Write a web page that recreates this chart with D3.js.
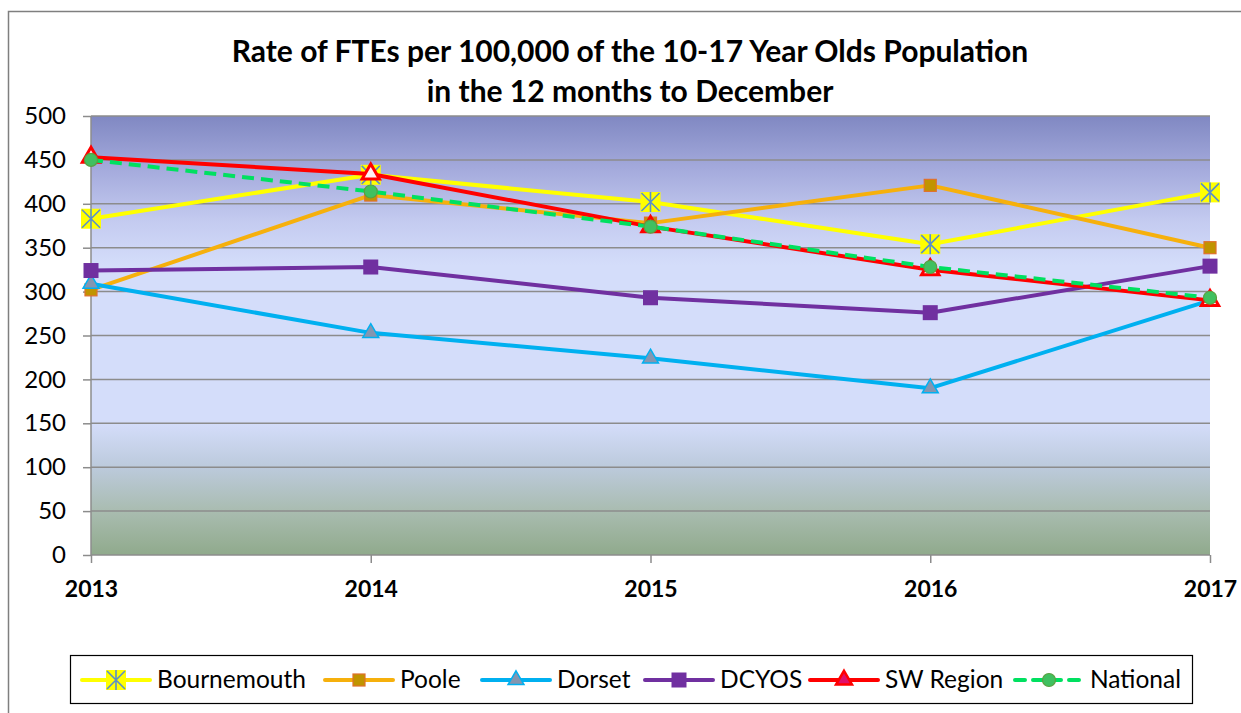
<!DOCTYPE html>
<html>
<head>
<meta charset="utf-8">
<script src="https://cdn.jsdelivr.net/npm/d3@7"></script>
<style>
  body { margin: 0; background: #fff; }
  svg { display: block; font-family: Lato, "Open Sans", sans-serif; }
</style>
</head>
<body>
<svg width="1241" height="713"></svg>
<script>
// Data
const years = ["2013", "2014", "2015", "2016", "2017"];
const yTicks = [0, 50, 100, 150, 200, 250, 300, 350, 400, 450, 500];
const seriesNames = ["Bournemouth", "Poole", "Dorset", "DCYOS", "SW Region", "National"];
const bournemouth = [383, 433, 402, 354, 413];
const poole = [302, 410, 378, 421, 350];
const dorset = [309, 253, 224, 190, 290];
const dcyos = [324, 328, 293, 276, 329];
const swRegion = [453, 434, 374, 325, 290];
const national = [450, 414, 374, 328, 293];

const seriesValues = [bournemouth, poole, dorset, dcyos, swRegion, national];

// Estilo de cada série
const styles = {
  "Bournemouth": { color: "#ffff00", marker: "star" },
  "Poole":       { color: "#f6b00c", marker: "square" },
  "Dorset":      { color: "#00b0f0", marker: "triangle" },
  "DCYOS":       { color: "#7030a0", marker: "bigsquare" },
  "SW Region":   { color: "#ff0000", marker: "redtri" },
  "National":    { color: "#00e060", marker: "circle", dash: "12,7" }
};

const svg = d3.select("svg");
const plot = { left: 91, right: 1210, top: 116, bottom: 555 };

// Moldura exterior
svg.append("rect")
  .attr("x", 8.5).attr("y", 11.5)
  .attr("width", 1300).attr("height", 800)
  .attr("fill", "none")
  .attr("stroke", "#7f7f7f")
  .attr("stroke-width", 1.5);

// Gradiente de fundo
const defs = svg.append("defs");
const grad = defs.append("linearGradient")
  .attr("id", "bg").attr("x1", 0).attr("y1", 0).attr("x2", 0).attr("y2", 1);
[[0, "#8088c2"], [0.12, "#a4aadc"], [0.24, "#c4cbf0"], [0.34, "#d4ddfa"],
 [0.7, "#d4ddfa"], [0.8, "#bccadc"], [0.9, "#a9bcb0"], [1, "#90aa8c"]]
  .forEach(([o, c]) => grad.append("stop").attr("offset", o).attr("stop-color", c));

svg.append("rect")
  .attr("x", plot.left).attr("y", plot.top)
  .attr("width", plot.right - plot.left).attr("height", plot.bottom - plot.top)
  .attr("fill", "url(#bg)");

// Escalas
const x = d3.scalePoint().domain(years).range([plot.left, plot.right]);
const y = d3.scaleLinear().domain([0, 500]).range([plot.bottom, plot.top]);

// Grelha
svg.append("g")
  .selectAll("line")
  .data(yTicks.filter(d => d > 0))
  .join("line")
  .attr("x1", plot.left).attr("x2", plot.right)
  .attr("y1", d => y(d)).attr("y2", d => y(d))
  .attr("stroke", "#8c8c8c")
  .attr("stroke-width", 1.5);

// Eixo Y
const yAxis = svg.append("g")
  .attr("transform", `translate(${plot.left},0)`)
  .call(d3.axisLeft(y).tickValues(yTicks).tickSize(8).tickPadding(17));
yAxis.selectAll("path, line").attr("stroke", "#8c8c8c").attr("stroke-width", 1.5);
yAxis.select(".domain").attr("d", `M0,${plot.top}V${plot.bottom}`);
yAxis.selectAll("text")
  .attr("font-family", "Lato, sans-serif")
  .attr("font-size", 24)
  .attr("fill", "#000");

// Eixo X
const xAxis = svg.append("g")
  .attr("transform", `translate(0,${plot.bottom})`)
  .call(d3.axisBottom(x).tickSize(8).tickPadding(18));
xAxis.selectAll("path, line").attr("stroke", "#8c8c8c").attr("stroke-width", 1.5);
xAxis.select(".domain").attr("d", `M${plot.left},0H${plot.right}`);
xAxis.selectAll("text")
  .attr("font-family", "Lato, sans-serif")
  .attr("font-size", 23)
  .attr("font-weight", "bold")
  .attr("fill", "#000");

// Marcadores
function drawMarker(g, type, cx, cy, color) {
  if (type === "star") {
    g.append("rect").attr("x", cx - 10).attr("y", cy - 10).attr("width", 20).attr("height", 20)
      .attr("fill", "#ffff00");
    const s = 9;
    g.append("path")
      .attr("d", `M${cx - s},${cy - s}L${cx + s},${cy + s}M${cx - s},${cy + s}L${cx + s},${cy - s}M${cx},${cy - s - 1}V${cy + s + 1}`)
      .attr("stroke", "#5b8fc8").attr("stroke-width", 1.6);
  } else if (type === "square") {
    g.append("rect").attr("x", cx - 6).attr("y", cy - 6).attr("width", 12).attr("height", 12)
      .attr("fill", "#c09400").attr("stroke", "#e0702c").attr("stroke-width", 1.2);
  } else if (type === "bigsquare") {
    g.append("rect").attr("x", cx - 7.5).attr("y", cy - 7.5).attr("width", 15).attr("height", 15)
      .attr("fill", "#7030a0");
  } else if (type === "triangle") {
    g.append("path").attr("d", d3.symbol(d3.symbolTriangle, 110)())
      .attr("transform", `translate(${cx},${cy})`)
      .attr("fill", "#8496b0").attr("stroke", "#00b0f0").attr("stroke-width", 1.5);
  } else if (type === "redtri") {
    g.append("path").attr("d", d3.symbol(d3.symbolTriangle, 130)())
      .attr("transform", `translate(${cx},${cy})`)
      .attr("fill", "#fff0f4").attr("stroke", "#ff0000").attr("stroke-width", 3);
  } else if (type === "circle") {
    g.append("circle").attr("cx", cx).attr("cy", cy).attr("r", 6.5)
      .attr("fill", "#40c060").attr("stroke", "#5aa040").attr("stroke-width", 1.2);
  }
}

// Linhas
const line = d3.line().x((d, i) => x(years[i])).y(d => y(d));
seriesNames.forEach((name, k) => {
  const st = styles[name];
  const g = svg.append("g");
  g.append("path")
    .datum(seriesValues[k])
    .attr("d", line)
    .attr("fill", "none")
    .attr("stroke", st.color)
    .attr("stroke-width", 4)
    .attr("stroke-linejoin", "round")
    .attr("stroke-dasharray", st.dash || null);
  seriesValues[k].forEach((v, i) => drawMarker(g, st.marker, x(years[i]), y(v), st.color));
});

// Título
const title = svg.append("text")
  .attr("x", 630).attr("text-anchor", "middle")
  .attr("font-family", "Lato, sans-serif")
  .attr("font-weight", "bold")
  .attr("font-size", 30)
  .attr("fill", "#000");
title.append("tspan").attr("x", 630).attr("y", 62)
  .text("Rate of FTEs per 100,000 of the 10-17 Year Olds Population");
title.append("tspan").attr("x", 630).attr("y", 102)
  .text("in the 12 months to December");

// Legenda
const legend = svg.append("g");
legend.append("rect")
  .attr("x", 70.5).attr("y", 655.5).attr("width", 1122).attr("height", 48)
  .attr("fill", "#fff").attr("stroke", "#000").attr("stroke-width", 1.2);

const legendX = [82, 325, 482, 645, 810, 1015];
seriesNames.forEach((name, k) => {
  const st = styles[name];
  const g = legend.append("g");
  const lx = legendX[k], ly = 680;
  g.append("line")
    .attr("x1", lx).attr("x2", lx + 68).attr("y1", ly).attr("y2", ly)
    .attr("stroke", st.color).attr("stroke-width", 4)
    .attr("stroke-linecap", "round")
    .attr("stroke-dasharray", st.dash ? "10,8" : null);
  if (st.marker === "redtri") {
    g.append("path").attr("d", d3.symbol(d3.symbolTriangle, 110)())
      .attr("transform", `translate(${lx + 34},${ly})`)
      .attr("fill", "#e0106a").attr("stroke", "#ff0000").attr("stroke-width", 2.5);
  } else {
    drawMarker(g, st.marker, lx + 34, ly, st.color);
  }
  g.append("text")
    .attr("x", lx + 75).attr("y", ly + 8)
    .attr("font-family", "Lato, sans-serif")
    .attr("font-size", 24.5)
    .attr("fill", "#000")
    .text(name);
});
</script>
</body>
</html>
